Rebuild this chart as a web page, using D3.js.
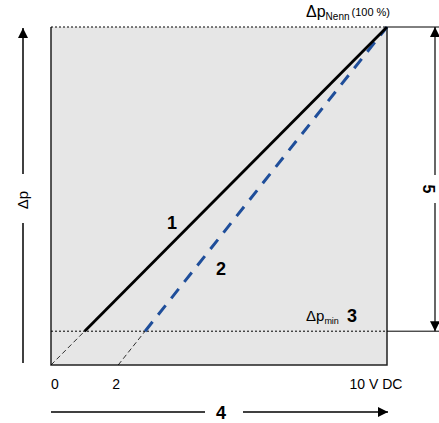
<!DOCTYPE html>
<html><head><meta charset="utf-8">
<script src="https://cdn.jsdelivr.net/npm/d3@7"></script>
<style>body{margin:0;background:#fff}svg{display:block;font-family:"Liberation Sans",Arial,sans-serif}</style>
</head><body>
<script>
// data
const xTicks = [0, 2, 10];
const xTickLabels = ["0", "2", "10 V DC"];
const line1 = [[1, 10], [10, 100]];      // solid black (0-10 V)
const line1Ext = [[0, 0], [1, 10]];
const line2 = [[2.8, 10], [10, 100]];    // blue dashed (2-10 V)
const line2Ext = [[2, 0], [2.8, 10]];
const pMin = 10, pNenn = 100;

const W = 439, H = 423;
const svg = d3.select("body").append("svg").attr("width", W).attr("height", H);
const x = d3.scaleLinear().domain([0, 10]).range([51, 387]);
const y = d3.scaleLinear().domain([0, 100]).range([365, 27]);

const defs = svg.append("defs");
defs.append("marker").attr("id","ah").attr("viewBox","0 0 10 10").attr("refX",10).attr("refY",5)
  .attr("markerWidth",16).attr("markerHeight",10).attr("markerUnits","userSpaceOnUse").attr("orient","auto")
  .append("path").attr("d","M0,0L10,5L0,10Z").attr("fill","#000");

// box
svg.append("rect").attr("x", x(0)).attr("y", y(100)).attr("width", x(10)-x(0)).attr("height", y(0)-y(100)).attr("fill","#e6e6e6");
const ln = d3.line().x(d=>x(d[0])).y(d=>y(d[1]));
svg.append("path").attr("d", ln([[0,100],[0,0],[10,0],[10,100]])).attr("fill","none").attr("stroke","#222").attr("stroke-width",1.5);
// dotted reference lines
[pNenn, pMin].forEach(v=>{
  svg.append("line").attr("x1",x(0)).attr("x2",x(10)).attr("y1",y(v)).attr("y2",y(v))
    .attr("stroke","#000").attr("stroke-width",1).attr("stroke-dasharray","2,2");
  svg.append("line").attr("x1",x(10)).attr("x2",439).attr("y1",y(v)).attr("y2",y(v))
    .attr("stroke","#000").attr("stroke-width",1);
});
// extensions
[line1Ext, line2Ext].forEach(d=>{
  svg.append("path").attr("d", ln(d)).attr("fill","none").attr("stroke","#000").attr("stroke-width",0.8).attr("stroke-dasharray","5,3");
});
svg.append("path").attr("d", ln(line2)).attr("fill","none").attr("stroke","#1f4e9a").attr("stroke-width",3).attr("stroke-dasharray","12,9");
svg.append("path").attr("d", ln(line1)).attr("fill","none").attr("stroke","#000").attr("stroke-width",2.8);

// tick labels
const tickOff = [4, -2, -11];
svg.selectAll(".xt").data(xTicks).enter().append("text")
  .attr("x",(d,i)=> x(d)+tickOff[i]).attr("y",389).attr("font-size",14).attr("text-anchor","middle")
  .text((d,i)=>xTickLabels[i]);

// number labels
const bold = (t,xx,yy)=>svg.append("text").attr("x",xx).attr("y",yy).attr("font-size",18).attr("font-weight","bold").attr("text-anchor","middle").text(t);
bold("1",172,229);
bold("2",221,275);
bold("3",352,322);
bold("4",221,419);

// Δp_min
const t3 = svg.append("text").attr("x",306).attr("y",321).attr("font-size",15);
t3.append("tspan").text("Δp");
t3.append("tspan").attr("font-size",9).attr("dy",3).text("min");
const t4 = svg.append("text").attr("x",306).attr("y",17).attr("font-size",16);
t4.append("tspan").text("Δp");
t4.append("tspan").attr("font-size",10).attr("dy",3).text("Nenn");
t4.append("tspan").attr("font-size",11).attr("dy",-4).attr("dx",2).text("(100 %)");

// left arrow
svg.append("line").attr("x1",23).attr("x2",23).attr("y1",363).attr("y2",223).attr("stroke","#000").attr("stroke-width",1.5);
svg.append("line").attr("x1",23).attr("x2",23).attr("y1",174).attr("y2",28).attr("stroke","#000").attr("stroke-width",1.5).attr("marker-end","url(#ah)");
svg.append("text").attr("transform","translate(28,200) rotate(-90)").attr("font-size",15).attr("text-anchor","middle").text("Δp");

// bottom arrow
svg.append("line").attr("x1",51).attr("x2",205).attr("y1",412).attr("y2",412).attr("stroke","#000").attr("stroke-width",1.5);
svg.append("line").attr("x1",243).attr("x2",388).attr("y1",412).attr("y2",412).attr("stroke","#000").attr("stroke-width",1.5).attr("marker-end","url(#ah)");

// right arrow
svg.append("line").attr("x1",435).attr("x2",435).attr("y1",175).attr("y2",y(100)).attr("stroke","#000").attr("stroke-width",1.2).attr("marker-end","url(#ah)");
svg.append("line").attr("x1",435).attr("x2",435).attr("y1",203).attr("y2",y(pMin)).attr("stroke","#000").attr("stroke-width",1.2).attr("marker-end","url(#ah)");
svg.append("text").attr("transform","translate(423,189) rotate(90)").attr("font-size",16).attr("font-weight","bold").attr("text-anchor","middle").text("5");
</script>
</body></html>
